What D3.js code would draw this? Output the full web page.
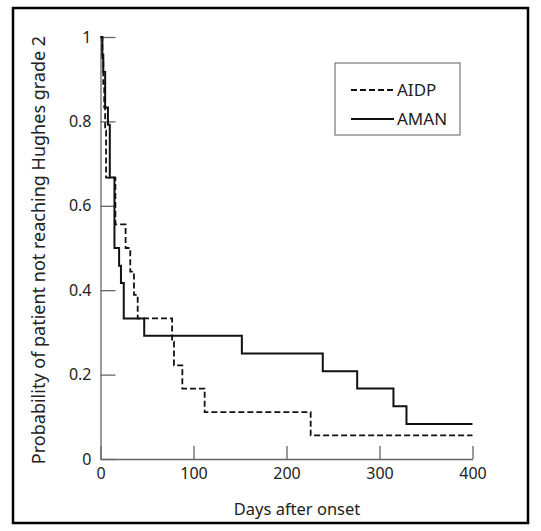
<!DOCTYPE html>
<html>
<head>
<meta charset="utf-8">
<script src="https://cdn.jsdelivr.net/npm/d3@7"></script>
<style>
  body { margin: 0; background: #fff; }
  text { font-family: "Noto Sans", "DejaVu Sans", sans-serif; fill: #222; }
</style>
</head>
<body>
<div id="km"></div>
<script>
// Kaplan-Meier steps (days, probability).
let aidp_days = [0, 2, 3, 4, 5, 6, 16, 27, 32, 36, 40, 77, 79, 88, 112, 226, 400];
let aidp_surv = [1, 0.944, 0.889, 0.833, 0.778, 0.667, 0.556, 0.5, 0.444, 0.389, 0.333, 0.278, 0.222, 0.167, 0.111, 0.056, 0.056];

let aman_days = [0, 2, 3, 5, 8, 10, 15, 20, 22, 25, 47, 152, 239, 276, 315, 329, 400];
let aman_surv = [1, 0.958, 0.917, 0.833, 0.792, 0.667, 0.5, 0.458, 0.417, 0.333, 0.292, 0.25, 0.208, 0.167, 0.125, 0.083, 0.083];

let x_ticks = [0, 100, 200, 300, 400];
let y_ticks = [0, 0.2, 0.4, 0.6, 0.8, 1];
let series_names = ["AIDP", "AMAN"];

let km_width = 541, km_height = 531;

let km_svg = d3.select("#km")
.append("svg")
.attr("width", km_width)
.attr("height", km_height);

// Outer frame.
km_svg.append("rect")
.attr("x", 13).attr("y", 8)
.attr("width", 515).attr("height", 515)
.attr("fill", "none")
.attr("stroke", "#000")
.attr("stroke-width", 2.5);

let km_x = d3.scaleLinear().domain([0, 400]).range([100.5, 472.5]);
let km_y = d3.scaleLinear().domain([0, 1]).range([459, 37]);

// x-axis, ticks pointing up into the plot.
km_svg.append("g")
.attr("transform", "translate(0," + km_y(0) + ")")
.call(d3.axisBottom(km_x).tickValues(x_ticks).tickSizeInner(-13).tickSizeOuter(0).tickPadding(9));

// y-axis, ticks pointing right.
km_svg.append("g")
.attr("transform", "translate(" + km_x(0) + ",0)")
.call(d3.axisLeft(km_y).tickValues(y_ticks).tickFormat(d3.format("~g")).tickSizeInner(-15).tickSizeOuter(0).tickPadding(9));

km_svg.selectAll(".domain, .tick line").attr("stroke", "#666").attr("stroke-width", 1.3);
km_svg.selectAll(".tick text").style("font-size", "16px").attr("fill", "#222");

// Curves.
const toPoints = (days, surv) => days.map((d, i) => [d, surv[i]]);
let km_line = d3.line()
.x(d => km_x(d[0]))
.y(d => km_y(d[1]))
.curve(d3.curveStepAfter);

km_svg.append("path")
.datum(toPoints(aidp_days, aidp_surv))
.attr("d", km_line)
.attr("fill", "none")
.attr("stroke", "#111")
.attr("stroke-width", 1.8)
.attr("stroke-dasharray", "6,3");

km_svg.append("path")
.datum(toPoints(aman_days, aman_surv))
.attr("d", km_line)
.attr("fill", "none")
.attr("stroke", "#111")
.attr("stroke-width", 2);

// Legend.
let legend = km_svg.append("g");
legend.append("rect")
.attr("x", 335).attr("y", 63)
.attr("width", 125).attr("height", 72)
.attr("fill", "#fff")
.attr("stroke", "#777")
.attr("stroke-width", 1.2);

series_names.forEach((name, i) => {
  let ly = 90 + i * 29;
  legend.append("line")
  .attr("x1", 351).attr("x2", 394)
  .attr("y1", ly).attr("y2", ly)
  .attr("stroke", "#111")
  .attr("stroke-width", i === 0 ? 1.8 : 2)
  .attr("stroke-dasharray", i === 0 ? "6,3" : null);
  legend.append("text")
  .attr("x", 397).attr("y", ly)
  .attr("dy", "0.35em")
  .style("font-size", "17px")
  .text(name);
});

// Axis titles.
km_svg.append("text")
.attr("text-anchor", "middle")
.attr("x", 297)
.attr("y", 515)
.style("font-size", "16.5px")
.text("Days after onset");

km_svg.append("text")
.attr("text-anchor", "middle")
.attr("transform", "translate(45,250) rotate(-90)")
.style("font-size", "18px")
.text("Probability of patient not reaching Hughes grade 2");
</script>
</body>
</html>
